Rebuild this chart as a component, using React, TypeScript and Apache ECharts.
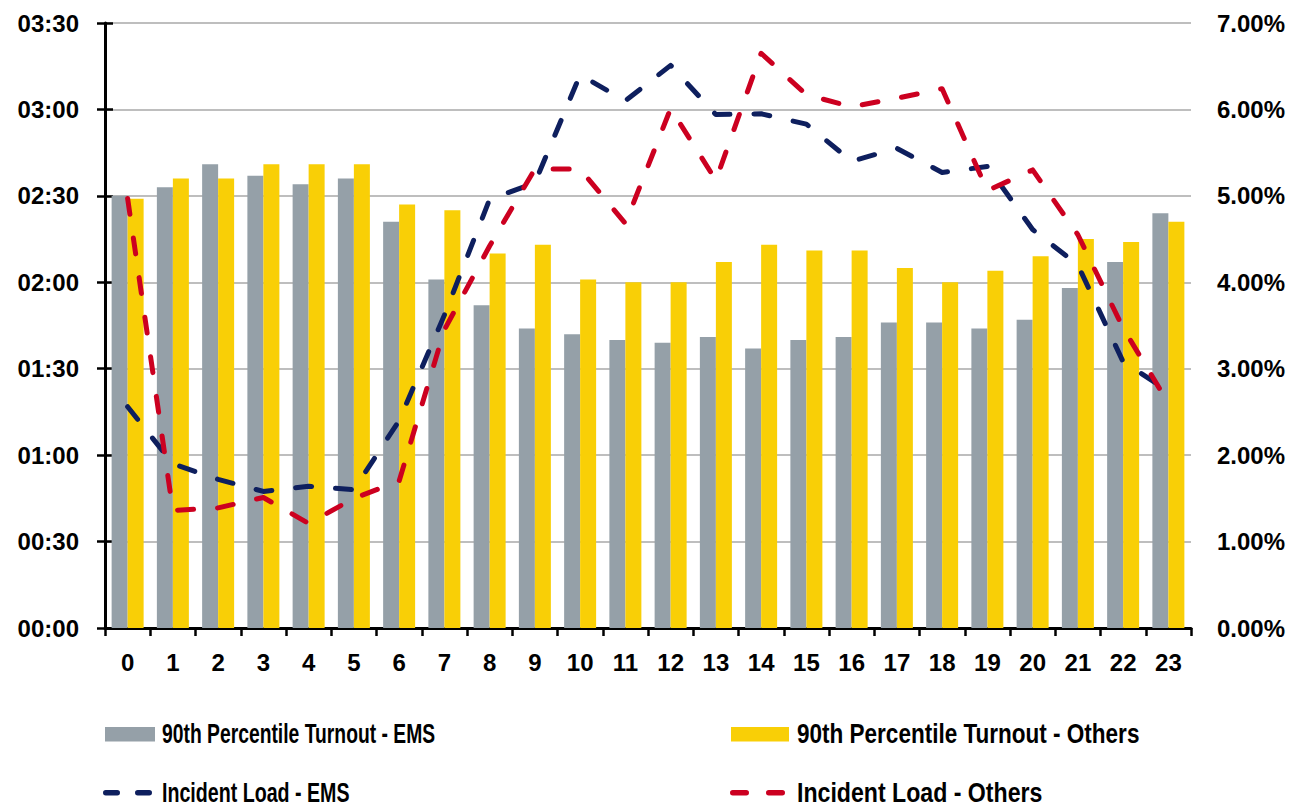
import React, { useEffect, useRef } from "react";
import * as echarts from "echarts";

const hours = ["0","1","2","3","4","5","6","7","8","9","10","11","12","13","14","15","16","17","18","19","20","21","22","23"];
// 90th percentile turnout, in seconds
const turnoutEMS = [150,153,161,157,154,156,141,121,112,104,102,100,99,101,97,100,101,106,106,104,107,118,127,144];
const turnoutOthers = [149,156,156,161,161,161,147,145,130,133,121,120,120,127,133,131,131,125,120,124,129,135,134,141];
// Incident load, percent
const loadEMS = [2.56,1.90,1.72,1.58,1.64,1.60,2.40,3.62,4.96,5.15,6.40,6.10,6.51,5.94,5.95,5.83,5.40,5.55,5.27,5.34,4.61,4.20,3.08,2.74];
const loadOthers = [4.97,1.36,1.39,1.51,1.21,1.50,1.70,3.45,4.42,5.31,5.31,4.68,6.01,5.18,6.65,6.17,6.03,6.13,6.24,5.06,5.30,4.55,3.47,2.60];

const names = [
  "90th Percentile Turnout - EMS",
  "90th Percentile Turnout - Others",
  "Incident Load - EMS",
  "Incident Load - Others",
];

const GRAY = "#95a0a8";
const YELLOW = "#f9cf06";
const NAVY = "#0e1f5e";
const RED = "#cc0020";
const FONT = "'Liberation Sans', Arial, sans-serif";

const mmss = (v: number) => {
  const m = Math.floor(v / 60);
  const s = Math.round(v % 60);
  return String(m).padStart(2, "0") + ":" + String(s).padStart(2, "0");
};

export default function App() {
  const ref = useRef<HTMLDivElement>(null);
  useEffect(() => {
    if (!ref.current) return;
    const chart = echarts.init(ref.current, null, { renderer: "svg" });

    const legendText = (text: string, x: number, baseline: number, sx: number) => ({
      type: "text",
      x,
      y: baseline + 6,
      scaleX: sx,
      style: {
        text,
        fill: "#000",
        font: "bold 27px 'Liberation Sans', Arial, sans-serif",
        textAlign: "left",
        textVerticalAlign: "bottom",
      },
    });
    const barIcon = (x: number, w: number, color: string) => ({
      type: "rect",
      shape: { x, y: 727, width: w, height: 14.5 },
      style: { fill: color },
    });
    const dashIcon = (x: number, w: number, color: string) => ({
      type: "rect",
      shape: { x, y: 790, width: w, height: 5.5, r: 2.75 },
      style: { fill: color },
    });

    chart.setOption({
      animation: false,
      backgroundColor: "#fff",
      grid: { left: 105, right: 116, top: 23, bottom: 181, containLabel: false },
      legend: { show: false, data: names },
      graphic: [
        barIcon(105, 50, GRAY),
        legendText(names[0], 162, 741, 0.715),
        barIcon(731, 58, YELLOW),
        legendText(names[1], 797, 741, 0.834),
        dashIcon(103, 17, NAVY),
        dashIcon(135, 17, NAVY),
        legendText(names[2], 162, 800, 0.727),
        dashIcon(730, 19, RED),
        dashIcon(766, 19, RED),
        legendText(names[3], 797, 800, 0.857),
      ],
      xAxis: {
        type: "category",
        data: hours,
        boundaryGap: true,
        axisLine: { show: true, lineStyle: { color: "#000", width: 3 } },
        axisTick: { show: true, length: 8, lineStyle: { color: "#000", width: 2.5 } },
        axisLabel: { margin: 22, fontFamily: FONT, fontSize: 24, fontWeight: "bold", color: "#000" },
      },
      yAxis: [
        {
          type: "value",
          min: 0,
          max: 210,
          interval: 30,
          axisLine: { show: true, lineStyle: { color: "#000", width: 3 } },
          axisTick: { show: true, length: 8, lineStyle: { color: "#000", width: 2.5 } },
          axisLabel: { margin: 26, fontFamily: FONT, fontSize: 24, fontWeight: "bold", color: "#000", formatter: (v: number) => mmss(v) },
          splitLine: { show: true, lineStyle: { color: "#a8a8a8", width: 1.5 } },
        },
        {
          type: "value",
          min: 0,
          max: 7,
          interval: 1,
          position: "right",
          axisLine: { show: false },
          axisTick: { show: false },
          axisLabel: { margin: 26, fontFamily: FONT, fontSize: 24, fontWeight: "bold", color: "#000", formatter: (v: number) => v.toFixed(2) + "%" },
          splitLine: { show: false },
        },
        {
          type: "value",
          min: 0,
          max: 210,
          interval: 30,
          position: "left",
          axisLine: { show: false },
          axisTick: { show: true, inside: true, length: 8, lineStyle: { color: "#000", width: 2.5 } },
          axisLabel: { show: false },
          splitLine: { show: false },
        },
      ],
      series: [
        { name: names[0], type: "bar", data: turnoutEMS, barWidth: 16, barGap: "0%", itemStyle: { color: GRAY } },
        { name: names[1], type: "bar", data: turnoutOthers, barWidth: 16, barGap: "0%", itemStyle: { color: YELLOW } },
        {
          name: names[2], type: "line", yAxisIndex: 1, data: loadEMS, symbol: "none", showSymbol: false,
          itemStyle: { color: NAVY },
          lineStyle: { color: NAVY, width: 5, type: [16, 24], cap: "round", join: "round" },
        },
        {
          name: names[3], type: "line", yAxisIndex: 1, data: loadOthers, symbol: "none", showSymbol: false,
          itemStyle: { color: RED },
          lineStyle: { color: RED, width: 5, type: [16, 24], cap: "round", join: "round" },
        },
      ],
    });
    return () => chart.dispose();
  }, []);
  return <div ref={ref} style={{ position: "fixed", left: 0, top: 0, width: 1307, height: 809 }} />;
}
